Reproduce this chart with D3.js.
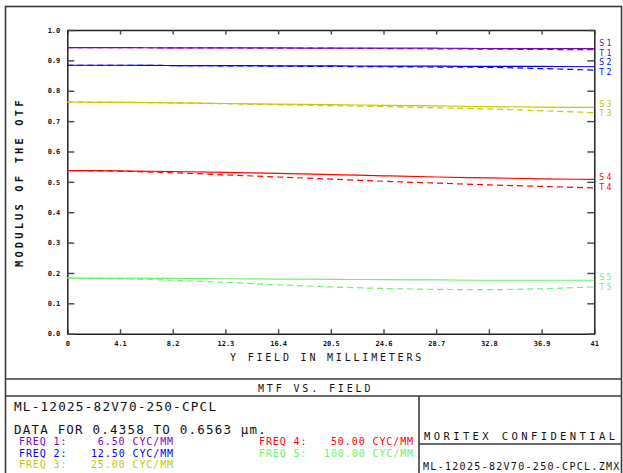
<!DOCTYPE html>
<html>
<head>
<meta charset="utf-8">
<script src="https://cdn.jsdelivr.net/npm/d3@7"></script>
<style>
  html, body { margin: 0; padding: 0; background: #fff; }
  svg { display: block; }
  text { font-family: "DejaVu Sans Mono", monospace; }
</style>
</head>
<body>
<svg id="chart" width="623" height="473"></svg>
<script>
// ---- data ----
const fields = [0, 4.1, 8.2, 12.3, 16.4, 20.5, 24.6, 28.7, 32.8, 36.9, 41];
const xTickLabels = ["0", "4.1", "8.2", "12.3", "16.4", "20.5", "24.6", "28.7", "32.8", "36.9", "41"];
const yTicks = [0, 0.1, 0.2, 0.3, 0.4, 0.5, 0.6, 0.7, 0.8, 0.9, 1.0];
const yTickLabels = ["0.0", "0.1", "0.2", "0.3", "0.4", "0.5", "0.6", "0.7", "0.8", "0.9", "1.0"];

const sag1 = [0.942, 0.942, 0.941, 0.941, 0.941, 0.940, 0.940, 0.940, 0.939, 0.939, 0.9385];
const tan1 = [0.942, 0.942, 0.941, 0.941, 0.940, 0.940, 0.939, 0.938, 0.937, 0.936, 0.935];
const sag2 = [0.884, 0.884, 0.883, 0.883, 0.882, 0.882, 0.881, 0.881, 0.880, 0.880, 0.879];
const tan2 = [0.884, 0.884, 0.883, 0.882, 0.881, 0.880, 0.879, 0.878, 0.877, 0.873, 0.868];
const sag3 = [0.763, 0.762, 0.760, 0.758, 0.756, 0.754, 0.752, 0.750, 0.748, 0.746, 0.745];
const tan3 = [0.763, 0.762, 0.760, 0.757, 0.754, 0.751, 0.748, 0.744, 0.740, 0.734, 0.728];
const sag4 = [0.537, 0.536, 0.534, 0.531, 0.528, 0.524, 0.520, 0.516, 0.513, 0.510, 0.508];
const tan4 = [0.537, 0.535, 0.530, 0.523, 0.516, 0.509, 0.502, 0.496, 0.490, 0.485, 0.480];
const sag5 = [0.183, 0.183, 0.182, 0.181, 0.180, 0.179, 0.178, 0.177, 0.176, 0.176, 0.176];
const tan5 = [0.183, 0.181, 0.176, 0.169, 0.161, 0.154, 0.149, 0.146, 0.145, 0.148, 0.154];

const freqNames = ["FREQ 1:", "FREQ 2:", "FREQ 3:", "FREQ 4:", "FREQ 5:"];
const freqValues = ["6.50 CYC/MM", "12.50 CYC/MM", "25.00 CYC/MM", "50.00 CYC/MM", "100.00 CYC/MM"];
const colors = ["#8000c0", "#0000ff", "#c8c800", "#ff0000", "#70f070"];
const sagSeries = [sag1, sag2, sag3, sag4, sag5];
const tanSeries = [tan1, tan2, tan3, tan4, tan5];

const titleText = "MTF VS. FIELD";
const xTitle = "Y FIELD IN MILLIMETERS";
const yTitle = "MODULUS OF THE OTF";
const lensName = "ML-12025-82V70-250-CPCL";
const dataRange = "DATA FOR 0.4358 TO 0.6563 \u03BCm.";
const confidential = "MORITEX CONFIDENTIAL";
const fileName = "ML-12025-82V70-250-CPCL.ZMX";

// ---- drawing ----
const svg = d3.select("#chart");
const pL = 67.3, pR = 594.3, pT = 30, pB = 333.7;

const x = d3.scaleLinear().domain([0, 41]).range([pL, pR]);
const y = d3.scaleLinear().domain([0, 1]).range([pB, pT]);

// outer frame & boxes
const frameColor = "#3a3a3a";
const fr = svg.append("g").attr("stroke", frameColor).attr("stroke-width", 1.6).attr("fill", "none");
fr.append("rect").attr("x", 5.5).attr("y", 6.5).attr("width", 616).attr("height", 480);
fr.append("line").attr("x1", 5.5).attr("x2", 622).attr("y1", 379).attr("y2", 379);
fr.append("line").attr("x1", 5.5).attr("x2", 622).attr("y1", 396).attr("y2", 396);
fr.append("line").attr("x1", 419).attr("x2", 419).attr("y1", 396).attr("y2", 473);
fr.append("line").attr("x1", 419).attr("x2", 622).attr("y1", 444).attr("y2", 444);

// axes
function styleAxis(g) {
  g.select(".domain").attr("stroke", "#222").attr("stroke-width", 1.5);
  g.selectAll(".tick line").attr("stroke", "#444").attr("stroke-width", 1.4);
  g.selectAll(".tick text")
    .attr("font-family", "DejaVu Sans Mono, monospace")
    .attr("font-size", 7)
    .attr("font-weight", "bold")
    .attr("fill", "#111");
  g.attr("font-family", null).attr("font-size", null);
}

svg.append("g").attr("transform", `translate(0,${pB})`)
  .call(d3.axisBottom(x).tickValues(fields).tickSizeInner(-4.5).tickSizeOuter(0).tickPadding(7.3)
    .tickFormat((d, i) => xTickLabels[i]))
  .call(styleAxis);
svg.append("g").attr("transform", `translate(0,${pT})`)
  .call(d3.axisTop(x).tickValues(fields).tickSizeInner(-4.5).tickSizeOuter(0).tickFormat(""))
  .call(styleAxis);
svg.append("g").attr("transform", `translate(${pL},0)`)
  .call(d3.axisLeft(y).tickValues(yTicks).tickSizeInner(-7).tickSizeOuter(0).tickPadding(7)
    .tickFormat((d, i) => yTickLabels[i]))
  .call(styleAxis);
svg.append("g").attr("transform", `translate(${pR},0)`)
  .call(d3.axisRight(y).tickValues(yTicks).tickSizeInner(-7).tickSizeOuter(0).tickFormat(""))
  .call(styleAxis);

// curves
const line = d3.line().x((d, i) => x(fields[i])).y(d => y(d)).curve(d3.curveMonotoneX);
const curves = svg.append("g").attr("fill", "none");
sagSeries.forEach((s, k) => {
  curves.append("path").attr("d", line(s)).attr("stroke", colors[k]).attr("stroke-width", 1.2);
});
tanSeries.forEach((s, k) => {
  curves.append("path").attr("d", line(s)).attr("stroke", colors[k]).attr("stroke-width", 1.2)
    .attr("stroke-dasharray", "6,4");
});

// right-side labels S/T
const lab = svg.append("g").attr("font-size", 8.2).attr("letter-spacing", 2.2);
sagSeries.forEach((s, k) => {
  const endS = y(s[s.length - 1]);
  const endT = y(tanSeries[k][tanSeries[k].length - 1]);
  const mid = (endS + endT) / 2;
  lab.append("text").attr("x", pR + 5).attr("y", mid - 3.5).attr("fill", colors[k]).text("S" + (k + 1));
  lab.append("text").attr("x", pR + 5).attr("y", mid + 6.3).attr("fill", colors[k]).text("T" + (k + 1));
});

// axis titles
svg.append("text").attr("x", 230).attr("y", 360.7).attr("font-size", 10).attr("letter-spacing", 2.8)
  .attr("fill", "#111").text(xTitle);
svg.append("text").attr("transform", "translate(22.5,267) rotate(-90)")
  .attr("font-size", 10.5).attr("letter-spacing", 3.1).attr("font-weight", "bold")
  .attr("fill", "#111").text(yTitle);

// bottom panel texts
svg.append("text").attr("x", 258).attr("y", 392.3).attr("font-size", 10).attr("letter-spacing", 2.85)
  .attr("fill", "#111").text(titleText);
svg.append("text").attr("x", 14).attr("y", 411).attr("font-size", 12.7).attr("letter-spacing", 1.2)
  .attr("fill", "#111").text(lensName);
svg.append("text").attr("x", 14).attr("y", 433.7).attr("font-size", 12.5).attr("letter-spacing", 1.2)
  .attr("fill", "#111").text(dataRange);

const fg = svg.append("g").attr("font-size", 10).attr("letter-spacing", 0.9);
const rowY = [445, 456.5, 468];
freqNames.forEach((n, k) => {
  const col = k < 3 ? 0 : 1;
  const row = k < 3 ? k : k - 3;
  const nx = col === 0 ? 19 : 259;
  const vEnd = col === 0 ? 174 : 414;
  fg.append("text").attr("x", nx).attr("y", rowY[row]).attr("fill", colors[k]).text(n);
  fg.append("text").attr("x", vEnd).attr("y", rowY[row]).attr("fill", colors[k])
    .attr("text-anchor", "end").text(freqValues[k]);
});

svg.append("text").attr("x", 424).attr("y", 440).attr("font-size", 10.5).attr("letter-spacing", 3.4)
  .attr("fill", "#111").text(confidential);
svg.append("text").attr("x", 423).attr("y", 470).attr("font-size", 10).attr("letter-spacing", 1.3)
  .attr("fill", "#111").text(fileName);
</script>
</body>
</html>
